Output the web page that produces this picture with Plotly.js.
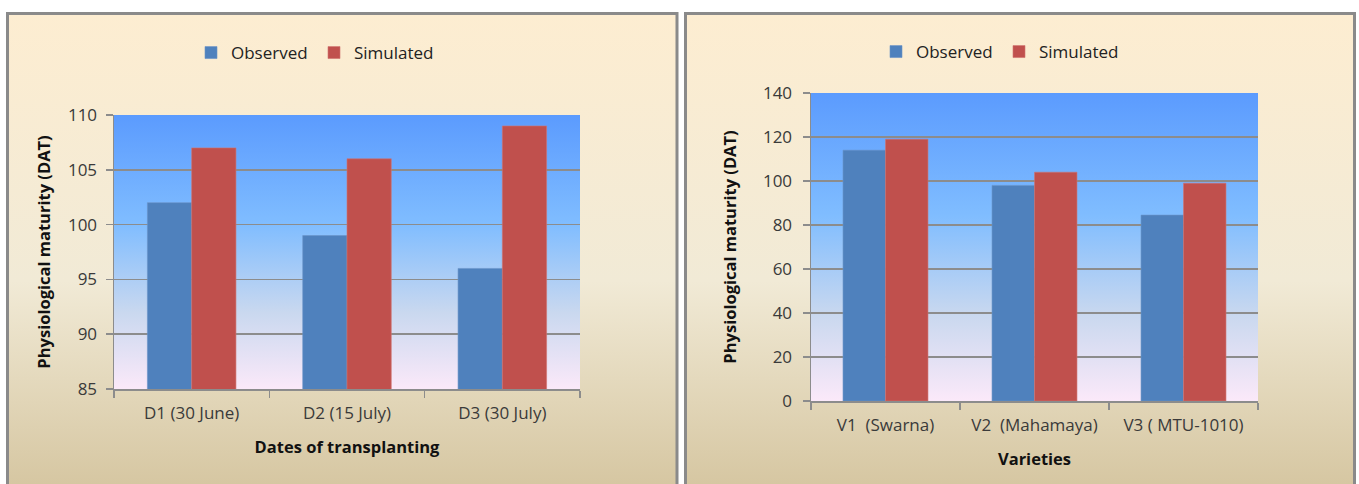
<!DOCTYPE html>
<html>
<head>
<meta charset="utf-8">
<script src="https://cdn.plot.ly/plotly-3.0.1.min.js"></script>
<style>
  html, body { margin: 0; padding: 0; background: #ffffff; }
  #chart { width: 1359px; height: 484px; }
</style>
</head>
<body>
<div id="chart"></div>
<script>
// Physiological maturity (days after transplanting): observed vs simulated
const dateLabels = ['D1 (30 June)', 'D2 (15 July)', 'D3 (30 July)'];
const dateObserved = [102, 99, 96];
const dateSimulated = [107, 106, 109];

const varietyLabels = ['V1  (Swarna)', 'V2  (Mahamaya)', 'V3 ( MTU-1010)'];
const varietyObserved = [114, 98, 84.5];
const varietySimulated = [119, 104, 99];

const W = 1359, H = 484;
const px = v => v / W;          // pixel -> paper x
const py = v => 1 - v / H;      // pixel -> paper y

// plot areas (pixels)
const leftPlot  = { x0: 114, x1: 580, y0: 115, y1: 389 };
const rightPlot = { x0: 811, x1: 1258, y0: 93, y1: 401 };
// chart panels (pixels)
const leftPanel  = { x0: 7.5, x1: 677, y0: 13.5, y1: 500 };
const rightPanel = { x0: 685.5, x1: 1354.5, y0: 13.5, y1: 500 };

const FONT = 'Open Sans, Noto Sans, sans-serif';
const BLUE = '#4f81bd', RED = '#c0504d';
const GRID = '#8c8c8c';

function gradientImage(stops) {
  const s = stops.map(([o, c]) => `<stop offset='${o}' stop-color='${c}'/>`).join('');
  const svg = `<svg xmlns='http://www.w3.org/2000/svg' width='100' height='100' viewBox='0 0 100 100' preserveAspectRatio='none'>` +
    `<defs><linearGradient id='g' x1='0' y1='0' x2='0' y2='1'>${s}</linearGradient></defs>` +
    `<rect width='100' height='100' fill='url(#g)'/></svg>`;
  return 'data:image/svg+xml;charset=utf-8,' + encodeURIComponent(svg);
}
const panelFill = gradientImage([[0, '#fdedd1'], [0.55, '#f1ead6'], [1, '#d4c49e']]);
const plotFill = gradientImage([[0, '#5b9bfe'], [0.4, '#80bdff'], [0.72, '#c9d8ef'], [1, '#fbe9f9']]);

function bgImage(src, r) {
  return {
    source: src, xref: 'paper', yref: 'paper',
    x: px(r.x0), y: py(r.y0), sizex: px(r.x1) - px(r.x0), sizey: py(r.y0) - py(r.y1),
    xanchor: 'left', yanchor: 'top', sizing: 'stretch', layer: 'below'
  };
}
function panelBorder(r) {
  return {
    type: 'rect', xref: 'paper', yref: 'paper', layer: 'below',
    x0: px(r.x0), x1: px(r.x1), y0: py(r.y1), y1: py(r.y0),
    line: { color: '#8a8a8a', width: 3 }, fillcolor: 'rgba(0,0,0,0)'
  };
}

const traces = [
  { type: 'bar', name: 'Observed', x: dateLabels, y: dateObserved, xaxis: 'x', yaxis: 'y',
    marker: { color: BLUE, line: { color: '#6a94c8', width: 0.6 } }, legend: 'legend' },
  { type: 'bar', name: 'Simulated', x: dateLabels, y: dateSimulated, xaxis: 'x', yaxis: 'y',
    marker: { color: RED, line: { color: '#d07370', width: 0.6 } }, legend: 'legend' },
  { type: 'bar', name: 'Observed', x: varietyLabels, y: varietyObserved, xaxis: 'x2', yaxis: 'y2',
    marker: { color: BLUE, line: { color: '#6a94c8', width: 0.6 } }, legend: 'legend2' },
  { type: 'bar', name: 'Simulated', x: varietyLabels, y: varietySimulated, xaxis: 'x2', yaxis: 'y2',
    marker: { color: RED, line: { color: '#d07370', width: 0.6 } }, legend: 'legend2' }
];

const tickFont = { family: FONT, size: 17, color: '#3a3a3a' };
const titleFont = { family: FONT, size: 16.5, color: '#111111', weight: 'bold' };

function xAxis(r, title, standoff) {
  return {
    domain: [px(r.x0), px(r.x1)], type: 'category',
    showline: true, linecolor: GRID, linewidth: 1.5,
    ticks: 'outside', tickson: 'boundaries', ticklen: 7, tickcolor: GRID, tickwidth: 1.5,
    ticklabelstandoff: 8,
    tickfont: tickFont, showgrid: false, fixedrange: true,
    title: { text: title, font: titleFont, standoff: standoff }
  };
}
function yAxis(r, range, dtick, anchor, title, standoff, labelGap) {
  return {
    domain: [py(r.y1), py(r.y0)], range: range, dtick: dtick, anchor: anchor,
    showline: true, linecolor: GRID, linewidth: 1.5,
    ticks: 'outside', ticklen: 7, tickcolor: GRID, tickwidth: 1.5,
    ticklabelstandoff: labelGap,
    showgrid: true, gridcolor: GRID, gridwidth: 1.5, zeroline: false,
    tickfont: tickFont, fixedrange: true,
    title: { text: title, font: titleFont, standoff: standoff }
  };
}

const legendBase = {
  orientation: 'h', xanchor: 'left', yanchor: 'middle',
  font: { family: FONT, size: 17, color: '#222222' },
  bgcolor: 'rgba(0,0,0,0)', borderwidth: 0, itemclick: false, itemdoubleclick: false,
  traceorder: 'normal', entrywidth: 78, entrywidthmode: 'pixels'
};

const layout = {
  width: W, height: H,
  margin: { l: 0, r: 0, t: 0, b: 0 },
  paper_bgcolor: '#ffffff', plot_bgcolor: 'rgba(0,0,0,0)',
  barmode: 'group', bargap: 0.43, bargroupgap: 0,
  showlegend: true,
  xaxis: xAxis(leftPlot, 'Dates of transplanting', 18),
  yaxis: yAxis(leftPlot, [85, 110], 5, 'x', 'Physiological maturity (DAT)', 13, 5),
  xaxis2: Object.assign(xAxis(rightPlot, 'Varieties', 18), { anchor: 'y2' }),
  yaxis2: yAxis(rightPlot, [0, 140], 20, 'x2', 'Physiological maturity (DAT)', 22, 7),
  legend: Object.assign({}, legendBase, { x: px(191), y: py(53) }),
  legend2: Object.assign({}, legendBase, { x: px(876), y: py(52) }),
  images: [
    bgImage(panelFill, leftPanel), bgImage(panelFill, rightPanel),
    bgImage(plotFill, leftPlot), bgImage(plotFill, rightPlot)
  ],
  shapes: [panelBorder(leftPanel), panelBorder(rightPanel)]
};

Plotly.newPlot('chart', traces, layout, { displayModeBar: false, staticPlot: true });
</script>
</body>
</html>
